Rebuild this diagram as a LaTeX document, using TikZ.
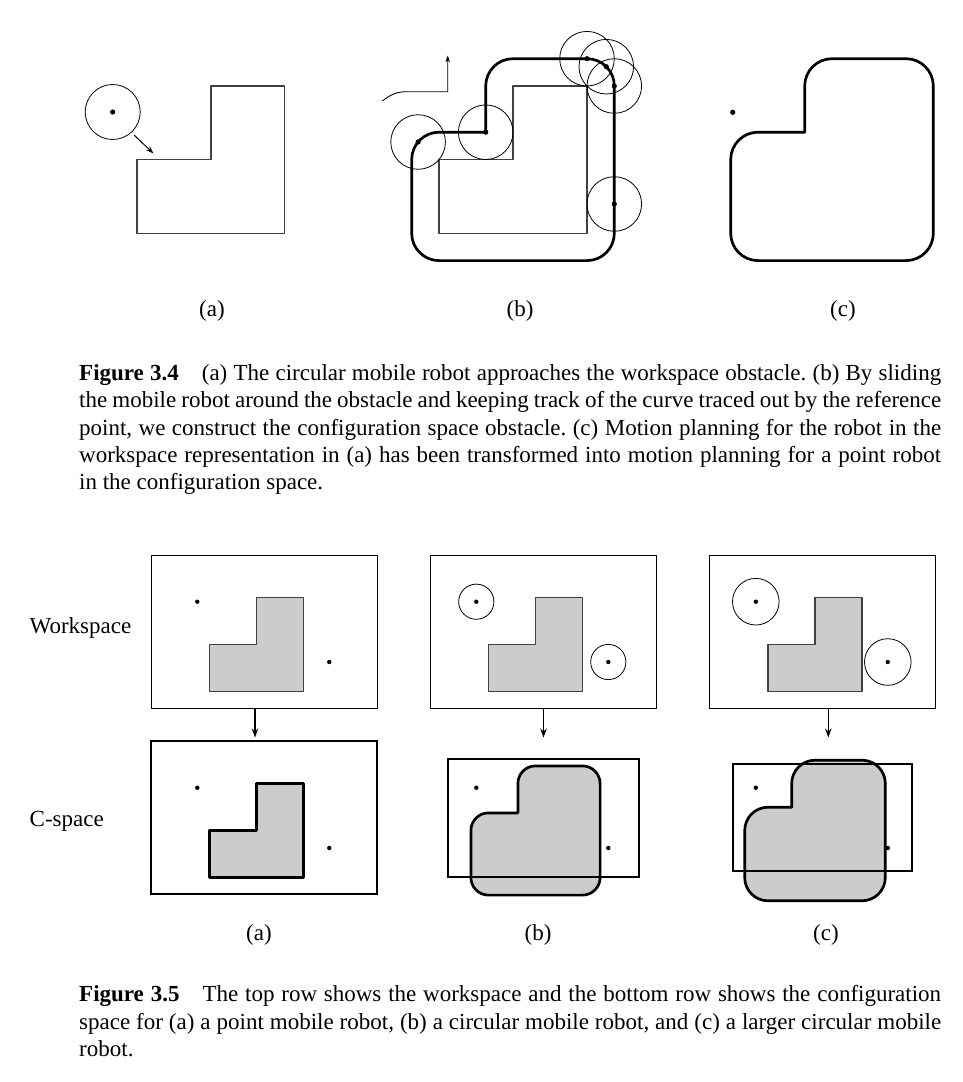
\documentclass[tikz,border=0pt]{standalone}
\usepackage{fontspec}
\setmainfont{Liberation Serif}
\usetikzlibrary{arrows.meta}
\definecolor{obgray}{HTML}{CCCCCC}
\frenchspacing

% L-shaped obstacle: x0 xs x1 y0 ys y1 style
\newcommand{\lobst}[7]{%
  \draw[#7] (#1,#5) -- (#2,#5) -- (#2,#4) -- (#3,#4) -- (#3,#6) -- (#1,#6) -- cycle;}
% grown (configuration space) obstacle: x0 xs x1 y0 ys y1 r style
\newcommand{\cobst}[8]{%
  \draw[#8] ({#2-#7},{#5-#7}) -- ({#2-#7},#4)
    arc[start angle=180,end angle=90,radius=#7pt] -- (#3,{#4-#7})
    arc[start angle=90,end angle=0,radius=#7pt] -- ({#3+#7},#6)
    arc[start angle=0,end angle=-90,radius=#7pt] -- (#1,{#6+#7})
    arc[start angle=-90,end angle=-180,radius=#7pt] -- ({#1-#7},#5)
    arc[start angle=180,end angle=90,radius=#7pt] -- cycle;}

\begin{document}
\begin{tikzpicture}[x=1pt,y=-1pt,
  every node/.style={inner sep=0pt,font=\fontsize{23pt}{27pt}\selectfont\frenchspacing},
  thinobst/.style={draw=black!75,line width=1.2pt,line join=round},
  cline/.style={draw=black,line width=2.7pt,line join=round},
  robot/.style={draw=black,line width=0.8pt},
  dot/.style={fill=black},
  arr/.style={-{Stealth[length=8pt,width=5.5pt]},line width=1.1pt},
  darr/.style={-{Stealth[length=9pt,width=6.5pt]},line width=1.4pt},
  wsrect/.style={draw=black,line width=1pt},
  capline/.style={anchor=base west}]
\fill[white] (0,0) rectangle (963,1082);
\useasboundingbox (0,0) rectangle (963,1082);

% ---------------- Figure 3.4 (a)
\lobst{137}{211}{284.5}{86}{159.5}{233.3}{thinobst}
\draw[robot] (112.7,112) circle[radius=27.5pt];
\fill[dot] (112.7,112) circle[radius=2.6pt];
\coordinate (aS) at (134,135);
\coordinate (aE) at (153.5,153.5);
\draw[arr,line width=1pt] (aS) -- (aE);

% ---------------- Figure 3.4 (b)
\lobst{439}{513}{587}{86}{159.5}{233.3}{thinobst}
\cobst{439}{513}{587}{86}{159.5}{233.3}{27.3}{cline}
\foreach \p in {(418.1,142),(485.7,132.2),(587,58.7),(606.3,66.7),(614.3,86),(614.3,204)}{
  \draw[robot] \p circle[radius=27.3pt];
  \fill[dot] \p circle[radius=2.6pt];
}
\coordinate (q0) at (382.3,101);
\coordinate (q1) at (407,91.7);
\coordinate (q2) at (447.7,91.7);
\coordinate (q3) at (447.7,55.5);
\draw[line width=0.9pt,-{Stealth[length=7pt,width=4.5pt]}]
  (q0) .. controls (392,93.5) and (398,91.7) .. (q1) -- (q2) -- (q3);

% ---------------- Figure 3.4 (c)
\cobst{758}{832}{906}{86}{159.5}{233.3}{27.3}{cline}
\fill[dot] (732.7,112.3) circle[radius=2.6pt];

\node (la) at (212,311) {(a)};
\node (lb) at (520,311) {(b)};
\node (lc) at (843,311) {(c)};

% caption 3.4
\node[capline] (c41) at (79,380.5) {\makebox[862pt][s]{\textbf{Figure 3.4}\quad (a) The circular mobile robot approaches the workspace obstacle. (b) By sliding}};
\node[capline] (c42) at (79,407.8) {\makebox[862pt][s]{the mobile robot around the obstacle and keeping track of the curve traced out by the reference}};
\node[capline] (c43) at (79,435.1) {\makebox[862pt][s]{point, we construct the configuration space obstacle. (c) Motion planning for the robot in the}};
\node[capline] (c44) at (79,462.4) {\makebox[862pt][s]{workspace representation in (a) has been transformed into motion planning for a point robot}};
\node[capline] (c45) at (79,489.7) {in the configuration space.};

% ---------------- Figure 3.5 workspace row
\draw[wsrect] (151,555) rectangle (377,708);
\lobst{209.5}{256.5}{303.5}{597.5}{644.5}{691.5}{thinobst,fill=obgray}
\fill[dot] (197.3,601.7) circle[radius=2.2pt];
\fill[dot] (329.3,662) circle[radius=2.2pt];

\draw[wsrect] (430,555) rectangle (656,708);
\lobst{488.5}{535.5}{582.5}{597.5}{644.5}{691.5}{thinobst,fill=obgray}
\draw[robot] (476.3,601.7) circle[radius=17.6pt];
\draw[robot] (608.3,662) circle[radius=17.6pt];
\fill[dot] (476.3,601.7) circle[radius=2.2pt];
\fill[dot] (608.3,662) circle[radius=2.2pt];

\draw[wsrect] (709.5,555) rectangle (935.3,708);
\lobst{768}{815}{862}{597.5}{644.5}{691.5}{thinobst,fill=obgray}
\draw[robot] (755.8,601.7) circle[radius=23.3pt];
\draw[robot] (887.8,662) circle[radius=23.3pt];
\fill[dot] (755.8,601.7) circle[radius=2.2pt];
\fill[dot] (887.8,662) circle[radius=2.2pt];

% arrows
\coordinate (wa) at (255,708);   \coordinate (ca) at (255,737.5);
\coordinate (wb) at (543.5,708); \coordinate (cb) at (543.5,737.5);
\coordinate (wc) at (828.3,708); \coordinate (cc) at (828.3,737.5);
\draw[darr] (wa) -- (ca);
\draw[darr] (wb) -- (cb);
\draw[darr] (wc) -- (cc);

% ---------------- Figure 3.5 C-space row
\draw[line width=2.5pt] (151,741) rectangle (377,894);
\lobst{209.5}{256.5}{303.5}{783.5}{830.5}{877.5}{cline,fill=obgray}
\fill[dot] (197.3,787.7) circle[radius=2.2pt];
\fill[dot] (329.3,848) circle[radius=2.2pt];

\cobst{488.5}{535.5}{582.5}{783.5}{830.5}{877.5}{17.6}{fill=obgray}
\draw[line width=2pt] (447.5,758.5) rectangle (638.5,876.5);
\cobst{488.5}{535.5}{582.5}{783.5}{830.5}{877.5}{17.6}{cline}
\fill[dot] (476.3,787.7) circle[radius=2.2pt];
\fill[dot] (608.3,848) circle[radius=2.2pt];

\cobst{768}{815}{862}{783.5}{830.5}{877.5}{23.3}{fill=obgray}
\draw[line width=2pt] (732.8,764.3) rectangle (911.5,870.7);
\cobst{768}{815}{862}{783.5}{830.5}{877.5}{23.3}{cline}
\fill[dot] (755.8,787.7) circle[radius=2.2pt];
\fill[dot] (887.8,848) circle[radius=2.2pt];

\node[anchor=base west] (ws) at (29.5,633.5) {Workspace};
\node[anchor=base west] (cs) at (29.5,826.5) {C-space};

\node (fa) at (259,935) {(a)};
\node (fb) at (538,935) {(b)};
\node (fc) at (826,935) {(c)};

% caption 3.5
\node[capline] (c51) at (79,1001.5) {\makebox[862pt][s]{\textbf{Figure 3.5}\quad The top row shows the workspace and the bottom row shows the configuration}};
\node[capline] (c52) at (79,1029) {\makebox[862pt][s]{space for (a) a point mobile robot, (b) a circular mobile robot, and (c) a larger circular mobile}};
\node[capline] (c53) at (79,1056.5) {robot.};
\end{tikzpicture}
\end{document}
